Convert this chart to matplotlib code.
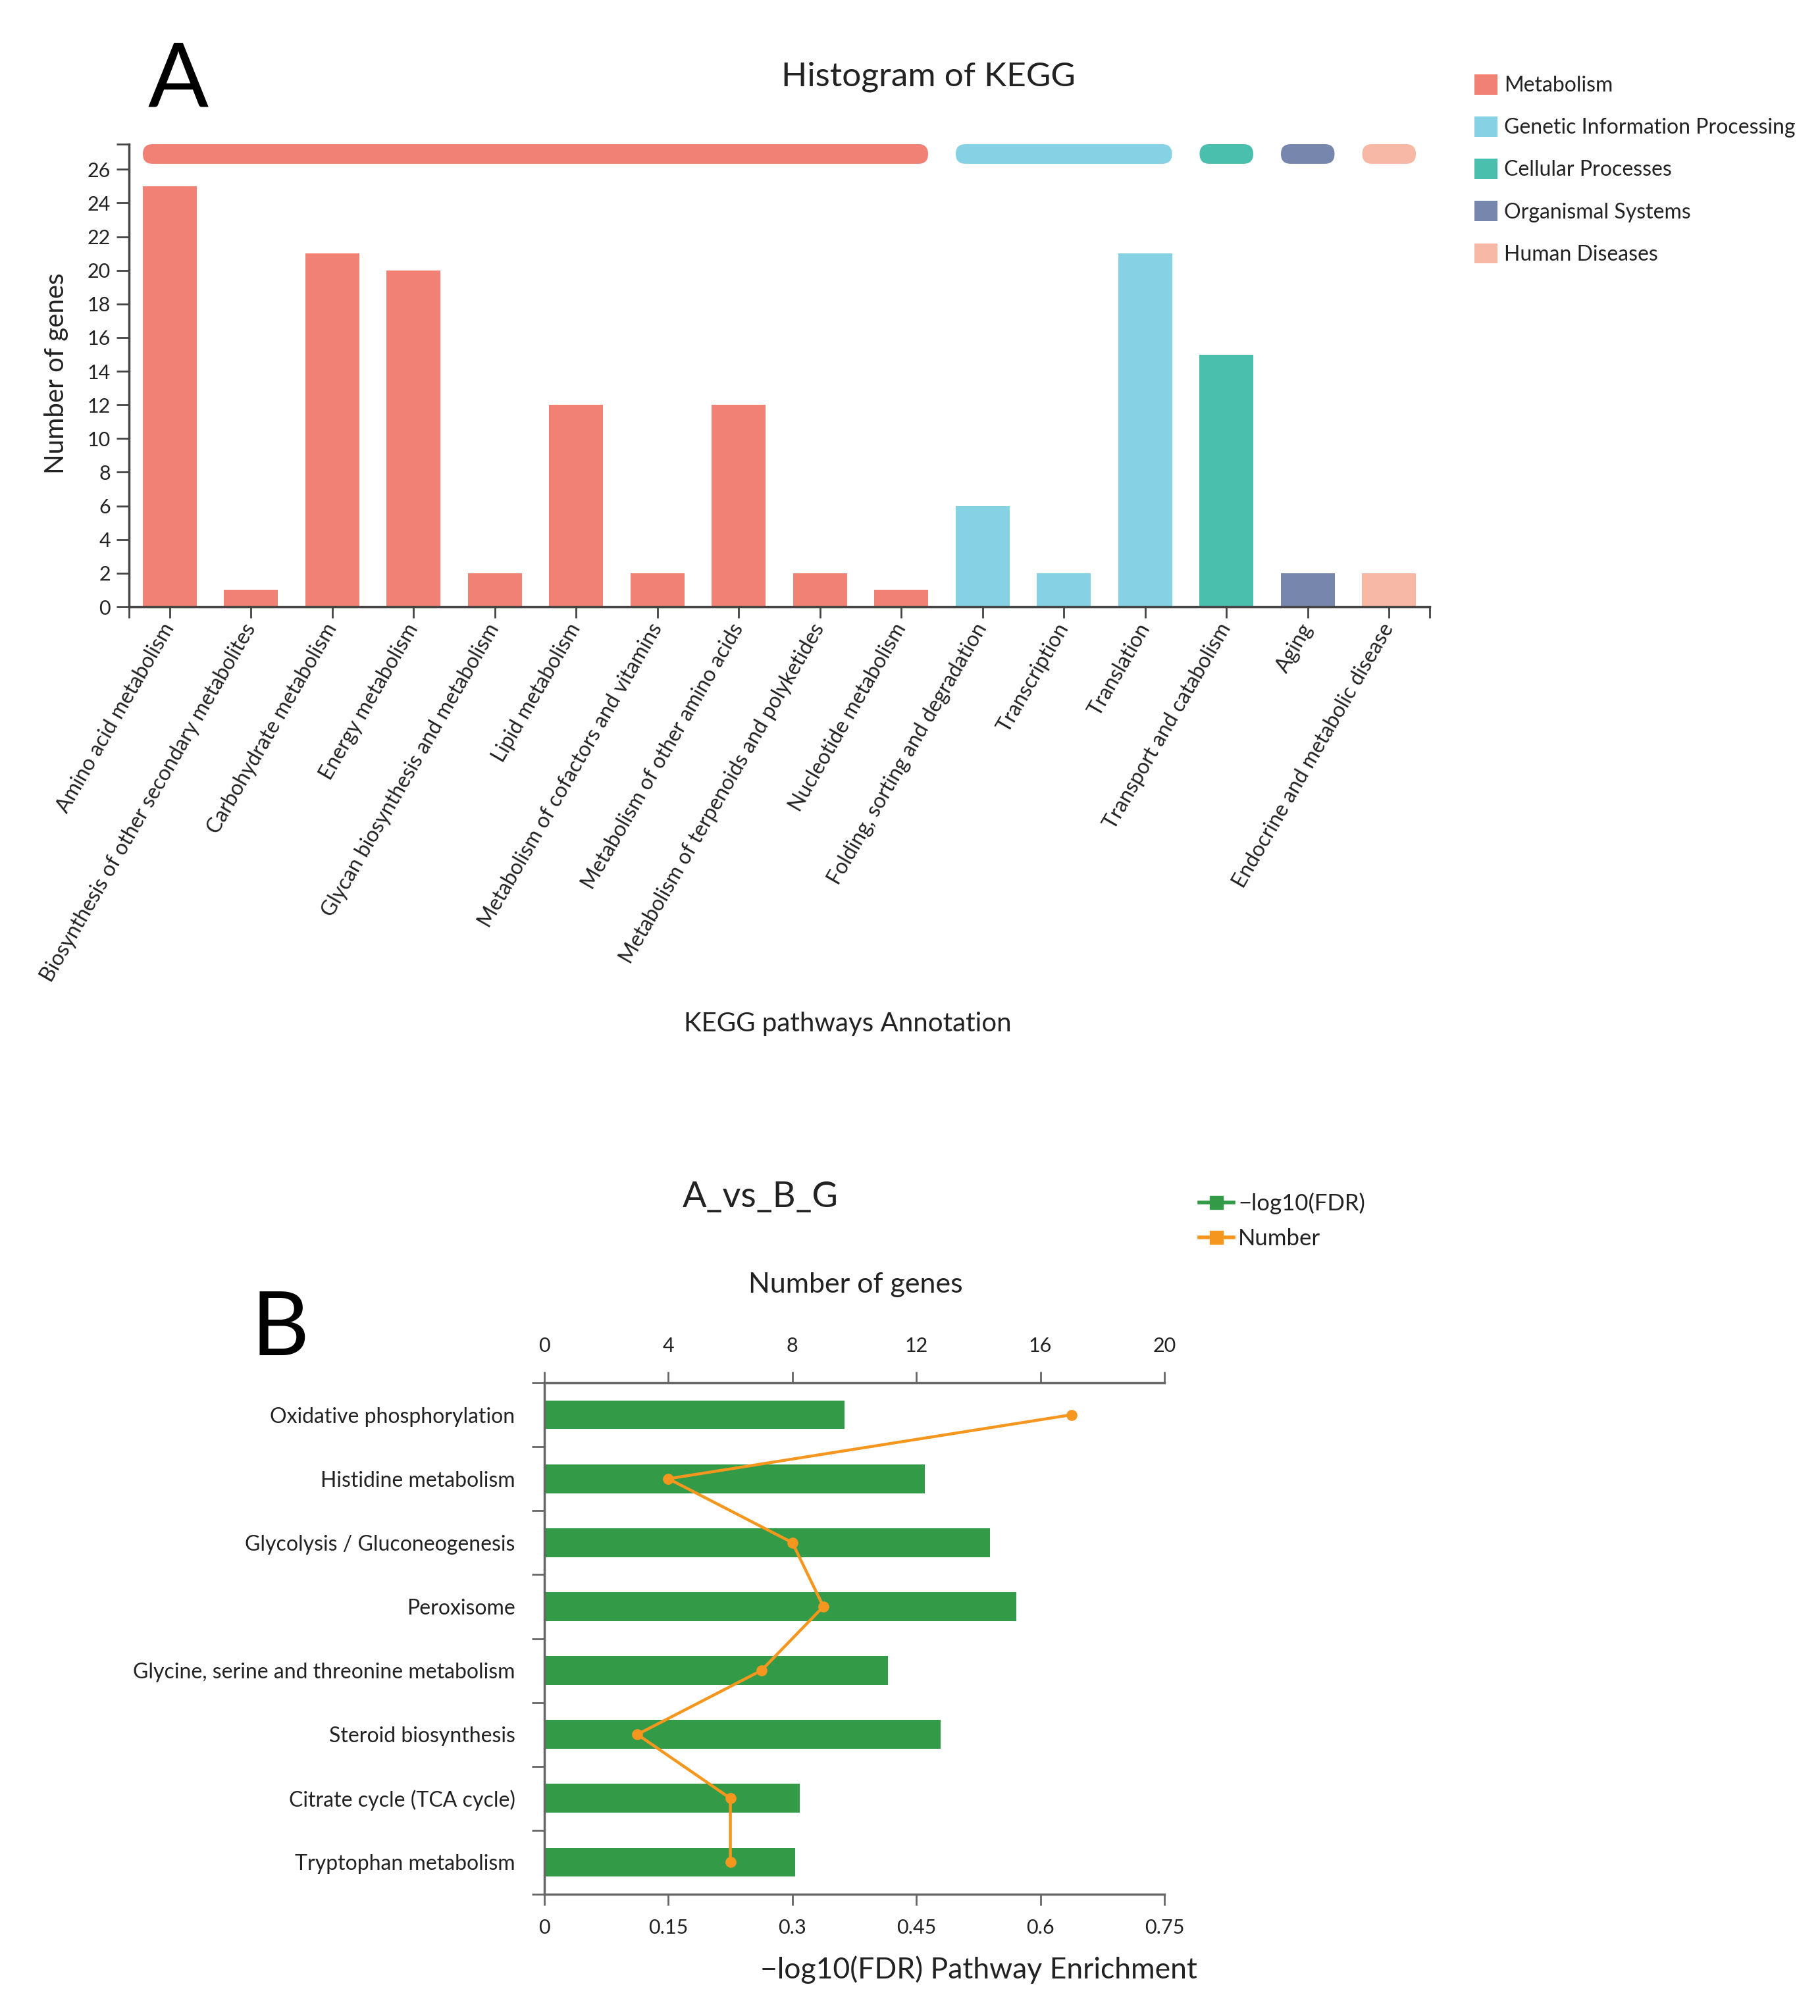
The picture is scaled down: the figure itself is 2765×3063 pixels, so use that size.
import matplotlib.pyplot as plt
from matplotlib.patches import FancyBboxPatch, Patch
from matplotlib.lines import Line2D
from matplotlib.ticker import FixedLocator

plt.rcParams['font.family'] = ['Lato', 'DejaVu Sans']
plt.rcParams['text.color'] = '#222222'

# --------------------
# Data: panel A (KEGG histogram)
# --------------------
kegg_pathways = [
    "Amino acid metabolism",
    "Biosynthesis of other secondary metabolites",
    "Carbohydrate metabolism",
    "Energy metabolism",
    "Glycan biosynthesis and metabolism",
    "Lipid metabolism",
    "Metabolism of cofactors and vitamins",
    "Metabolism of other amino acids",
    "Metabolism of terpenoids and polyketides",
    "Nucleotide metabolism",
    "Folding, sorting and degradation",
    "Transcription",
    "Translation",
    "Transport and catabolism",
    "Aging",
    "Endocrine and metabolic disease",
]
kegg_counts = [25, 1, 21, 20, 2, 12, 2, 12, 2, 1, 6, 2, 21, 15, 2, 2]
kegg_groups = (["Metabolism"] * 10 + ["Genetic Information Processing"] * 3
               + ["Cellular Processes", "Organismal Systems", "Human Diseases"])
group_names = ["Metabolism", "Genetic Information Processing",
               "Cellular Processes", "Organismal Systems", "Human Diseases"]
group_colors = ["#F08174", "#86D1E4", "#4ABFAD", "#7786AD", "#F7B8A5"]

# --------------------
# Data: panel B (enrichment)
# --------------------
enrich_pathways = [
    "Oxidative phosphorylation",
    "Histidine metabolism",
    "Glycolysis / Gluconeogenesis",
    "Peroxisome",
    "Glycine, serine and threonine metabolism",
    "Steroid biosynthesis",
    "Citrate cycle (TCA cycle)",
    "Tryptophan metabolism",
]
enrich_fdr = [0.363, 0.460, 0.539, 0.571, 0.416, 0.479, 0.309, 0.303]
enrich_genes = [17, 4, 8, 9, 7, 3, 6, 6]

green = "#339B47"
orange = "#F5961E"
axis_col = "#444444"

W, H = 2765, 3063
fig = plt.figure(figsize=(W / 100, H / 100), dpi=100)
fig.patch.set_facecolor("white")


def fx(px):
    return px / W


def fy(py):
    return 1 - py / H


# --------------------
# Panel A
# --------------------
a_left, a_right, a_top, a_bot = 196, 2172, 219, 922
axA = fig.add_axes([fx(a_left), fy(a_bot), fx(a_right) - fx(a_left), fy(a_top) - fy(a_bot)])

color_of = dict(zip(group_names, group_colors))
bar_colors = [color_of[g] for g in kegg_groups]
xs = list(range(len(kegg_pathways)))
axA.bar(xs, kegg_counts, width=0.66, color=bar_colors, zorder=2)

ymax = 27.5
axA.set_xlim(-0.5, len(xs) - 0.5)
axA.set_ylim(0, ymax)
axA.set_yticks(range(0, 27, 2))
axA.yaxis.set_minor_locator(FixedLocator([ymax]))
axA.set_xticks(xs)
axA.set_xticklabels(kegg_pathways, rotation=60, ha="right", va="center",
                    rotation_mode="anchor", fontsize=23, color="#222222")
axA.xaxis.set_minor_locator(FixedLocator([-0.5, len(xs) - 0.5]))
for s in ["top", "right"]:
    axA.spines[s].set_visible(False)
for s in ["left", "bottom"]:
    axA.spines[s].set_color(axis_col)
    axA.spines[s].set_linewidth(2.5)
axA.tick_params(axis="y", which="both", length=14, width=2, color=axis_col,
                labelsize=22, pad=6, labelcolor="#222222")
axA.tick_params(axis="x", which="both", length=12, width=2, color=axis_col, pad=8)

# rounded group bars on top
x_unit = (a_right - a_left) / len(xs)
y_unit = (a_bot - a_top) / ymax
aspect = x_unit / y_unit
band_h = 1.17
for name, col in zip(group_names, group_colors):
    idx = [i for i, g in enumerate(kegg_groups) if g == name]
    x0 = idx[0] - 0.33
    x1 = idx[-1] + 0.33
    r = 0.5 * band_h / aspect * 0.999
    box = FancyBboxPatch((x0, ymax - band_h), x1 - x0, band_h,
                         boxstyle=f"round,pad=0,rounding_size={r}",
                         mutation_aspect=aspect, facecolor=col,
                         edgecolor="none", clip_on=False, zorder=3)
    axA.add_patch(box)

fig.text(fx(225), fy(162), "A", fontsize=98, ha="left", va="baseline", color="black")
fig.text(fx(1410), fy(130), "Histogram of KEGG", fontsize=37, ha="center", va="baseline")
fig.text(fx(86), fy(567), "Number of genes", fontsize=29, rotation=90,
         ha="center", va="center")
fig.text(fx(1288), fy(1567), "KEGG pathways Annotation", fontsize=29,
         ha="center", va="baseline")

legA = [Patch(facecolor=c, edgecolor="none", label=n) for n, c in zip(group_names, group_colors)]
fig.legend(handles=legA, loc="upper left", bbox_to_anchor=(fx(2240), fy(113)),
           frameon=False, fontsize=23, handlelength=1.1, handleheight=1.1,
           handletextpad=0.3, labelspacing=1.0, borderpad=0, borderaxespad=0)

# --------------------
# Panel B
# --------------------
b_left, b_right, b_top, b_bot = 827, 1769, 2101, 2878
axB = fig.add_axes([fx(b_left), fy(b_bot), fx(b_right) - fx(b_left), fy(b_top) - fy(b_bot)])
ys = list(range(len(enrich_pathways)))
axB.barh(ys, enrich_fdr, height=0.45, color=green, zorder=2)
axB.set_ylim(len(ys) - 0.5, -0.5)
axB.set_xlim(0, 0.75)
axB.set_xticks([0, 0.15, 0.3, 0.45, 0.6, 0.75])
axB.set_xticklabels(["0", "0.15", "0.3", "0.45", "0.6", "0.75"])
axB.set_yticks(ys)
axB.set_yticklabels(enrich_pathways, fontsize=23)
axB.yaxis.set_minor_locator(FixedLocator([i - 0.5 for i in range(len(ys) + 1)]))
for s in ["top", "right"]:
    axB.spines[s].set_visible(False)
for s in ["left", "bottom"]:
    axB.spines[s].set_color("#666666")
    axB.spines[s].set_linewidth(2.5)
axB.tick_params(axis="y", which="major", length=0, pad=32, labelcolor="#222222")
axB.tick_params(axis="y", which="minor", length=14, width=2, color="#666666")
axB.tick_params(axis="x", length=12, width=2, color="#666666", pad=15,
                labelsize=22, labelcolor="#222222")

axB2 = axB.twiny()
axB2.plot(enrich_genes, ys, color=orange, lw=3.2, marker="o", ms=11, zorder=4)
axB2.set_xlim(0, 20)
axB2.set_xticks(range(0, 21, 4))
for s in ["left", "right", "bottom"]:
    axB2.spines[s].set_visible(False)
axB2.spines["top"].set_color("#666666")
axB2.spines["top"].set_linewidth(2.5)
axB2.tick_params(axis="x", length=12, width=2, color="#666666", pad=18,
                 labelsize=22, labelcolor="#222222")

fig.text(fx(382), fy(2059), "B", fontsize=98, ha="left", va="baseline", color="black")
fig.text(fx(1155), fy(1834), "A_vs_B_G", fontsize=39, ha="center", va="baseline")
fig.text(fx(1300), fy(1964), "Number of genes", fontsize=31, ha="center", va="baseline")
fig.text(fx(1487), fy(3006), "\u2212log10(FDR) Pathway Enrichment", fontsize=32,
         ha="center", va="baseline")

legB = [
    Line2D([], [], color=green, lw=4, marker="s", ms=14, label="\u2212log10(FDR)"),
    Line2D([], [], color=orange, lw=4, marker="s", ms=14, label="Number"),
]
fig.legend(handles=legB, loc="upper left", bbox_to_anchor=(fx(1822), fy(1812)),
           frameon=False, fontsize=25, handlelength=1.5, handletextpad=0.2,
           labelspacing=0.6, borderpad=0, borderaxespad=0)

fig.savefig("out.png", dpi=100, facecolor="white")
